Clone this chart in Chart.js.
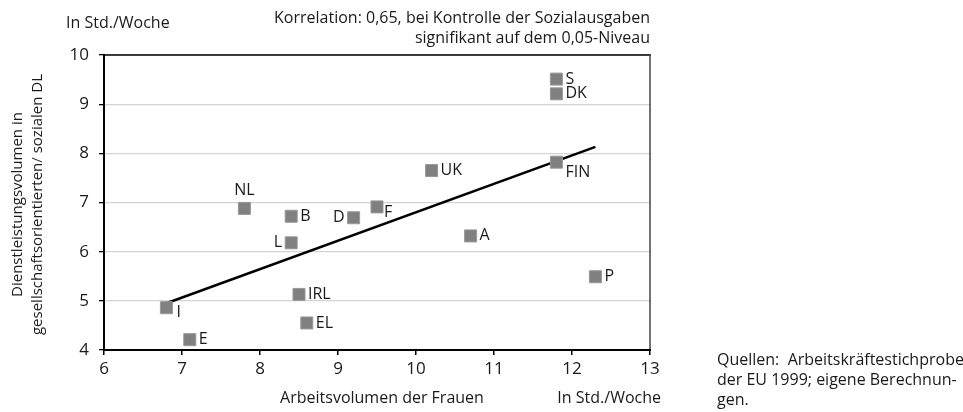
<!DOCTYPE html>
<html>
<head>
<meta charset="utf-8">
<script src="https://cdn.jsdelivr.net/npm/chart.js@4"></script>
<style>
  html, body { margin: 0; padding: 0; background: #fff; }
  #wrap { width: 963px; height: 412px; }
</style>
</head>
<body>
<div id="wrap"><canvas id="chartArbeit"></canvas></div>
<script>
// DATEN - Länder, Arbeitsvolumen der Frauen (x) und Dienstleistungsvolumen (y)
const laender = ['S', 'DK', 'FIN', 'UK', 'NL', 'B', 'D', 'F', 'L', 'A', 'P', 'IRL', 'EL', 'I', 'E'];
const arbeitsvolumen = [11.8, 11.8, 11.8, 10.2, 7.8, 8.4, 9.2, 9.5, 8.4, 10.7, 12.3, 8.5, 8.6, 6.8, 7.1];
const dienstleistung = [9.51, 9.21, 7.82, 7.65, 6.88, 6.72, 6.69, 6.91, 6.18, 6.32, 5.49, 5.13, 4.55, 4.86, 4.21];

// Regressionsgerade (Anfang / Ende)
const trendX = [6.8, 12.3];
const trendY = [4.95, 8.13];

// Achsen
const xTicks = [6, 7, 8, 9, 10, 11, 12, 13];
const yTicks = [4, 5, 6, 7, 8, 9, 10];

// Lage der Beschriftung je Land (r = rechts, l = links, o = oben, ru = rechts unten)
const lage = {S: 'r', DK: 'r', FIN: 'ru', UK: 'r', NL: 'o', B: 'r', D: 'l', F: 'rf', L: 'l', A: 'r', P: 'r', IRL: 'r', EL: 'r', I: 'ri', E: 'r'};

const schrift = "'Open Sans', 'Noto Sans', sans-serif";
const textFarbe = '#1a1a1a';

const punkte = laender.map((l, i) => ({x: arbeitsvolumen[i], y: dienstleistung[i]}));
const linie = trendX.map((x, i) => ({x: x, y: trendY[i]}));

// PLUGIN - Rahmen, Beschriftungen, Texte
const textPlugin = {
  id: 'textPlugin',
  afterDatasetsDraw(chart) {
    const ctx = chart.ctx;
    const a = chart.chartArea;
    const sx = chart.scales.x, sy = chart.scales.y;
    ctx.save();
    // Rahmen
    ctx.lineCap = 'square';
    ctx.strokeStyle = '#000';
    ctx.lineWidth = 1.5;
    ctx.beginPath(); ctx.moveTo(a.left, a.top); ctx.lineTo(a.right, a.top); ctx.stroke();
    ctx.strokeStyle = '#444';
    ctx.beginPath(); ctx.moveTo(a.right, a.top); ctx.lineTo(a.right, a.bottom); ctx.stroke();
    ctx.strokeStyle = '#000';
    ctx.lineWidth = 2;
    ctx.beginPath(); ctx.moveTo(a.left, a.top); ctx.lineTo(a.left, a.bottom); ctx.lineTo(a.right, a.bottom); ctx.stroke();

    // Länderkürzel
    ctx.fillStyle = textFarbe;
    ctx.font = '16px ' + schrift;
    laender.forEach((l, i) => {
      const px = sx.getPixelForValue(arbeitsvolumen[i]);
      const py = sy.getPixelForValue(dienstleistung[i]);
      const p = lage[l];
      ctx.textBaseline = 'middle';
      if (p == 'r') { ctx.textAlign = 'left'; ctx.fillText(l, px + 9, py); }
      else if (p == 'l') { ctx.textAlign = 'right'; ctx.fillText(l, px - 9, py); }
      else if (p == 'o') { ctx.textAlign = 'center'; ctx.fillText(l, px, py - 18); }
      else if (p == 'ru') { ctx.textAlign = 'left'; ctx.fillText(l, px + 9, py + 10); }
      else if (p == 'rf') { ctx.textAlign = 'left'; ctx.fillText(l, px + 7, py + 6); }
      else if (p == 'ri') { ctx.textAlign = 'left'; ctx.fillText(l, px + 10, py + 5); }
    });

    // Texte oben
    ctx.textBaseline = 'middle';
    ctx.textAlign = 'left';
    ctx.fillText('In Std./Woche', 66, 23);
    ctx.textAlign = 'right';
    ctx.fillText('Korrelation: 0,65, bei Kontrolle der Sozialausgaben', a.right, 18);
    ctx.fillText('signifikant auf dem 0,05-Niveau', a.right, 38);

    // Texte unten
    ctx.textAlign = 'center';
    ctx.fillText('Arbeitsvolumen der Frauen', 382, 398);
    ctx.textAlign = 'right';
    ctx.fillText('In Std./Woche', 661, 398);
    ctx.textAlign = 'left';
    ctx.fillText('Quellen:  Arbeitskräftestichprobe', 717, 360);
    ctx.fillText('der EU 1999; eigene Berechnun-', 717, 380);
    ctx.fillText('gen.', 717, 400);

    // Y-Achsentitel
    ctx.font = '15px ' + schrift;
    ctx.translate(0, (a.top + a.bottom) / 2 + 2);
    ctx.rotate(-Math.PI / 2);
    ctx.textAlign = 'center';
    ctx.fillText('Dienstleistungsvolumen in', 0, 18);
    ctx.fillText('gesellschaftsorientierten/ sozialen DL', 0, 38);
    ctx.restore();
  }
};

const config = {
  type: 'scatter',
  data: {
    datasets: [
      {
        type: 'line',
        data: linie,
        borderColor: '#000',
        borderWidth: 2.5,
        pointRadius: 0,
        fill: false,
        order: 2
      },
      {
        data: punkte,
        pointStyle: 'rect',
        pointRadius: 8.5,
        backgroundColor: '#808080',
        borderColor: '#999',
        borderWidth: 1,
        order: 1
      }
    ]
  },
  options: {
    responsive: true,
    maintainAspectRatio: false,
    animation: false,
    layout: { padding: { left: 0, top: 55, right: 313, bottom: 0 } },
    plugins: { legend: { display: false }, tooltip: { enabled: false } },
    scales: {
      x: {
        type: 'linear',
        min: 6, max: 13,
        afterFit: s => { s.height = 62; },
        afterBuildTicks: s => { s.ticks = xTicks.map(v => ({value: v})); },
        border: { display: false },
        grid: { drawOnChartArea: false, tickLength: 5, color: '#000', lineWidth: 1.5 },
        ticks: { color: textFarbe, font: { family: schrift, size: 17 }, padding: 4, maxRotation: 0 }
      },
      y: {
        type: 'linear',
        min: 4, max: 10,
        afterFit: s => { s.width = 104; },
        afterBuildTicks: s => { s.ticks = yTicks.map(v => ({value: v})); },
        border: { display: false },
        grid: {
          color: '#d4d4d4',
          lineWidth: 1.3,
          tickLength: 5,
          tickColor: '#000'
        },
        ticks: { color: textFarbe, font: { family: schrift, size: 17 }, padding: 10 }
      }
    }
  },
  plugins: [textPlugin]
};

const chartArbeit = new Chart(document.getElementById('chartArbeit'), config);
</script>
</body>
</html>
